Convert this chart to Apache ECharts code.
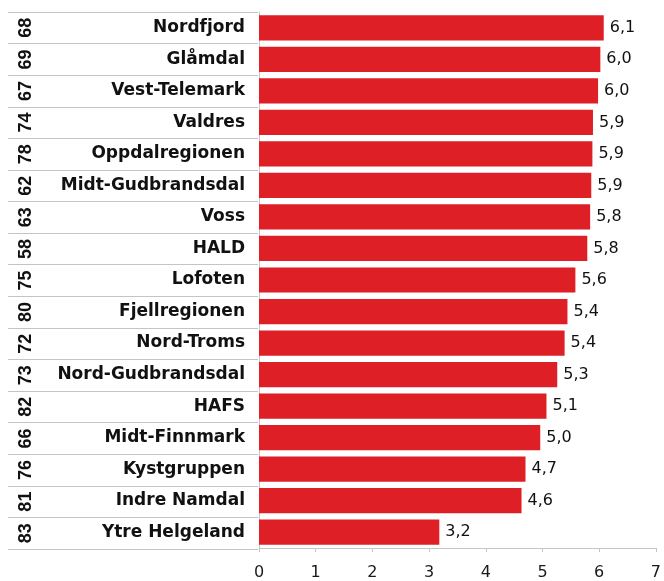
<!DOCTYPE html>
<html><head><meta charset="utf-8">
<script src="https://cdn.jsdelivr.net/npm/echarts@6/dist/echarts.min.js"></script>
<style>html,body{margin:0;padding:0;background:#fff}#c{width:664px;height:581px}</style>
</head><body><div id="c"></div>
<script>
const categories = ['Nordfjord','Glåmdal','Vest-Telemark','Valdres','Oppdalregionen','Midt-Gudbrandsdal','Voss','HALD','Lofoten','Fjellregionen','Nord-Troms','Nord-Gudbrandsdal','HAFS','Midt-Finnmark','Kystgruppen','Indre Namdal','Ytre Helgeland'];
const ranks = ['68','69','67','74','78','62','63','58','75','80','72','73','82','66','76','81','83'];
const values = [6.08,6.02,5.98,5.89,5.88,5.86,5.84,5.79,5.58,5.44,5.39,5.26,5.07,4.96,4.70,4.63,3.18];
const xTicks = [0,1,2,3,4,5,6,7];

const chart = echarts.init(document.getElementById('c'));
const gray = '#c4c4c4';
chart.setOption({
  animation:false,
  grid:[
    {left:259, right:6, top:12, bottom:32},
    {left:8, width:250, top:12, bottom:32}
  ],
  xAxis:[
    {gridIndex:0, type:'value', min:xTicks[0], max:xTicks[xTicks.length-1], interval:1,
     axisLine:{show:true, lineStyle:{color:gray}}, axisTick:{show:true, length:4, lineStyle:{color:gray}},
     splitLine:{show:false},
     axisLabel:{fontFamily:'DejaVu Sans', fontSize:16, color:'#1a1a1a', margin:17}},
    {gridIndex:1, type:'value', show:false}
  ],
  yAxis:[
    {gridIndex:0, type:'category', data:categories, inverse:true,
     axisLine:{show:true, lineStyle:{color:gray}}, axisTick:{show:false},
     axisLabel:{interval:0, fontFamily:'DejaVu Sans', fontWeight:'bold', fontSize:17, color:'#111', margin:14}},
    {gridIndex:1, type:'category', data:ranks, inverse:true,
     axisLine:{show:false}, axisTick:{show:false},
     splitLine:{show:true, interval:0, lineStyle:{color:gray, width:1}},
     axisLabel:{interval:0, inside:true, rotate:90, margin:9, fontFamily:'Liberation Sans', fontWeight:'bold', fontSize:18, color:'#111'}}
  ],
  series:[{
    type:'bar', xAxisIndex:0, yAxisIndex:0, data:values, barCategoryGap:'20%',
    itemStyle:{color:'#de1f26'},
    label:{show:true, position:'right', distance:6, fontFamily:'DejaVu Sans', fontSize:16, color:'#111',
      formatter:p=>p.value.toFixed(1).replace('.',',')}
  }]
});
</script></body></html>
